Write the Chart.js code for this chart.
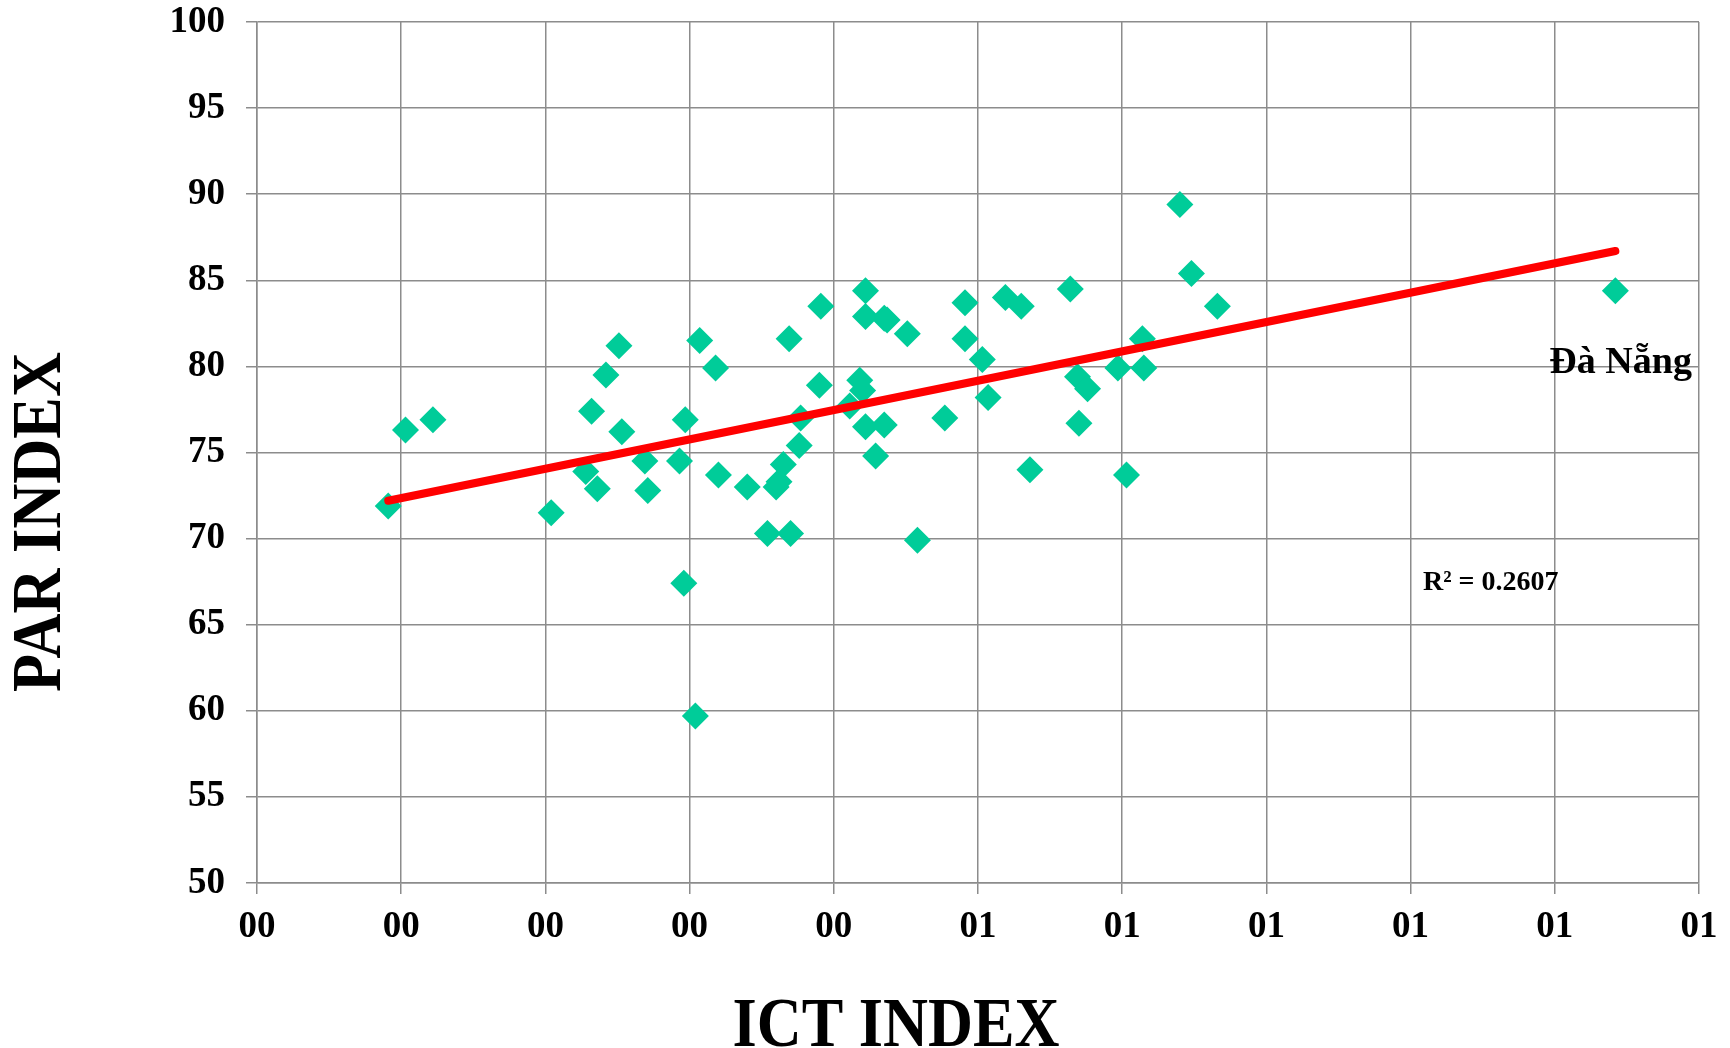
<!DOCTYPE html>
<html>
<head>
<meta charset="utf-8">
<script src="https://cdn.jsdelivr.net/npm/chart.js@4.4.1/dist/chart.umd.min.js"></script>
<style>
    html, body { margin: 0; padding: 0; background: #ffffff; }
    #wrap { width: 1730px; height: 1048px; }
</style>
</head>
<body>
<div id="wrap"><canvas id="scatterChart" width="1730" height="1048"></canvas></div>
<script>
// ICT index (x) and PAR index (y) for each province
var ictIndex = [
    0.091, 0.103, 0.122, 0.204, 0.251, 0.242, 0.232, 0.253, 0.228, 0.236,
    0.269, 0.271, 0.307, 0.318, 0.297, 0.293, 0.320, 0.340, 0.296, 0.304,
    0.354, 0.370, 0.360, 0.362, 0.365, 0.376, 0.377, 0.369, 0.391, 0.390,
    0.411, 0.418, 0.420, 0.422, 0.435, 0.429, 0.422, 0.422, 0.435, 0.437,
    0.451, 0.458, 0.477, 0.491, 0.491, 0.503, 0.507, 0.519, 0.530, 0.536,
    0.564, 0.569, 0.576, 0.570, 0.597, 0.603, 0.614, 0.615, 0.640, 0.648,
    0.666, 0.942
];
var parIndex = [
    71.9, 76.3, 76.9, 71.5, 81.2, 79.5, 77.4, 76.2, 73.9, 72.9,
    74.5, 72.8, 81.5, 79.9, 76.9, 74.5, 73.7, 73.0, 67.4, 59.7,
    70.3, 70.3, 73.0, 73.3, 74.3, 75.4, 77.0, 81.6, 83.5, 78.9,
    77.7, 79.2, 78.6, 76.5, 76.6, 74.8, 84.4, 82.9, 82.8, 82.7,
    81.9, 69.9, 77.0, 83.7, 81.6, 80.4, 78.2, 84.0, 83.5, 74.0,
    84.5, 79.4, 78.7, 76.7, 79.9, 73.7, 81.6, 79.9, 89.4, 85.4,
    83.5, 84.4
];

// linear trendline, ends
var trendX = [0.091, 0.942];
var trendY = [72.2, 86.7];
var rSquaredLabel = 'R² = 0.2607';
var highlightName = 'Đà Nẵng';

var serif = "'Liberation Serif', 'Times New Roman', serif";
var gridGray = '#8c8c8c';

var points = [];
for (var i = 0; i < ictIndex.length; i++) {
    points.push({ x: ictIndex[i], y: parIndex[i] });
}
var trend = [];
for (var j = 0; j < trendX.length; j++) {
    trend.push({ x: trendX[j], y: trendY[j] });
}

// axis titles and the two notes, drawn on top of the chart
var notesPlugin = {
    id: 'notes',
    afterDraw: function (chart) {
        var ctx = chart.ctx;
        var xs = chart.scales.x;
        var ys = chart.scales.y;
        ctx.save();
        ctx.fillStyle = '#000000';

        // y title
        ctx.save();
        ctx.translate(60, 522);
        ctx.rotate(-Math.PI / 2);
        ctx.scale(0.89, 1);
        ctx.font = 'bold 70px ' + serif;
        ctx.textAlign = 'center';
        ctx.textBaseline = 'alphabetic';
        ctx.fillText('PAR INDEX', 0, 0);
        ctx.restore();

        // x title
        ctx.save();
        ctx.translate(896, 1046);
        ctx.scale(0.89, 1);
        ctx.font = 'bold 70px ' + serif;
        ctx.textAlign = 'center';
        ctx.textBaseline = 'alphabetic';
        ctx.fillText('ICT INDEX', 0, 0);
        ctx.restore();

        // label of the last point
        var last = points.length - 1;
        var px = xs.getPixelForValue(ictIndex[last]);
        var py = ys.getPixelForValue(parIndex[last]);
        ctx.font = 'bold 38px ' + serif;
        ctx.textAlign = 'left';
        ctx.textBaseline = 'alphabetic';
        ctx.fillText(highlightName, px - 66, py + 82);

        // R squared
        ctx.font = 'bold 28px ' + serif;
        ctx.fillText(rSquaredLabel, chart.chartArea.right - 276, 590);

        ctx.restore();
    }
};

var bgPlugin = {
    id: 'bg',
    beforeDraw: function (chart) {
        var ctx = chart.ctx;
        ctx.save();
        ctx.fillStyle = '#ffffff';
        ctx.fillRect(0, 0, chart.width, chart.height);
        ctx.restore();
    }
};

new Chart(document.getElementById('scatterChart'), {
    type: 'scatter',
    data: {
        datasets: [{
            type: 'line',
            label: 'Trend',
            data: trend,
            borderColor: '#ff0000',
            borderWidth: 8,
            borderCapStyle: 'round',
            pointRadius: 0,
            fill: false,
            order: 0
        }, {
            label: 'Provinces',
            data: points,
            pointStyle: 'rectRot',
            pointRadius: 13.5,
            pointHoverRadius: 13.5,
            backgroundColor: '#00cc99',
            borderColor: '#00cc99',
            borderWidth: 0,
            order: 1
        }]
    },
    options: {
        responsive: false,
        animation: false,
        events: [],
        layout: {
            padding: { left: 0, right: 31, top: 0, bottom: 0 }
        },
        plugins: {
            legend: { display: false },
            tooltip: { enabled: false }
        },
        scales: {
            x: {
                type: 'linear',
                min: 0,
                max: 1,
                afterFit: function (scale) { scale.height = 165; },
                ticks: {
                    stepSize: 0.1,
                    padding: 11,
                    color: '#000000',
                    font: { family: serif, size: 37, weight: 'bold' },
                    maxRotation: 0,
                    callback: function (v) {
                        var n = Math.round(v);
                        return (n < 10 ? '0' : '') + n;
                    }
                },
                grid: { color: gridGray, lineWidth: 1.5, tickLength: 11, tickColor: gridGray },
                border: { color: gridGray, width: 1.5 }
            },
            y: {
                min: 50,
                max: 100,
                afterFit: function (scale) {
                    scale.width = 257;
                    scale.paddingTop = 22;
                },
                ticks: {
                    stepSize: 5,
                    padding: 21,
                    color: '#000000',
                    font: { family: serif, size: 37, weight: 'bold' }
                },
                grid: { color: gridGray, lineWidth: 1.5, tickLength: 11, tickColor: gridGray },
                border: { color: gridGray, width: 1.5 }
            }
        }
    },
    plugins: [bgPlugin, notesPlugin]
});
</script>
</body>
</html>
